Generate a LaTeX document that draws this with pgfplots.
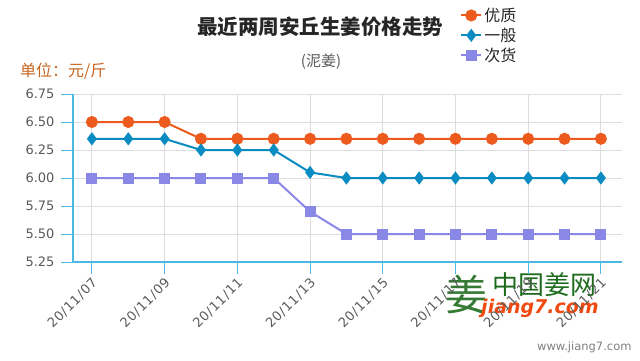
\documentclass[border=0pt]{standalone}
\usepackage{pgfplots}
\pgfplotsset{compat=1.18}
\usepackage{fontspec}
\setmainfont{Noto Sans CJK SC}
\newfontfamily\tickfont{DejaVu Sans}
\newfontfamily\xtickfont{DejaVu Sans}[LetterSpace=6]
\definecolor{cA}{HTML}{EC5A1E}
\definecolor{cB}{HTML}{0A8BC2}
\definecolor{cC}{HTML}{8A88E6}
\definecolor{axc}{HTML}{4CB9E3}
\definecolor{gridc}{HTML}{DDDDDD}
\definecolor{lab}{HTML}{5A5A5A}
\definecolor{unitc}{HTML}{C8651E}
\definecolor{logog}{HTML}{1E6B1E}
\definecolor{logor}{HTML}{F04A10}
\begin{document}
\begin{tikzpicture}
\useasboundingbox (0pt,0pt) rectangle (640pt,360pt);
% watermark
\node[font=\fontsize{42}{42}\selectfont, text=logog, opacity=0.9] at (466pt,66pt) {姜};
\node[font=\fontsize{26}{26}\selectfont, text=logog] at (544pt,75pt) {中国姜网};
\node[font=\tickfont\bfseries\itshape\fontsize{19}{19}\selectfont, text=logor] at (540pt,52pt) {jiang7.com};
\node[font=\tickfont\fontsize{11.5}{11.5}\selectfont, text=gray, anchor=east] at (635pt,13pt) {www.jiang7.com};
\begin{axis}[
  at={(73pt,98pt)}, anchor=south west, scale only axis,
  width=549pt, height=168pt,
  xmin=-0.52, xmax=14.58, ymin=5.25, ymax=6.75,
  xtick={0,2,4,6,8,10,12,14},
  xticklabels={20/11/07,20/11/09,20/11/11,20/11/13,20/11/15,20/11/17,20/11/19,20/11/21},
  ytick={5.25,5.5,5.75,6,6.25,6.5,6.75},
  /pgf/number format/fixed, /pgf/number format/fixed zerofill, /pgf/number format/precision=2,
  /pgf/number format/assume math mode=true,
  grid=major, major grid style={gridc, line width=1pt},
  axis x line*=bottom, axis y line*=left,
  axis line style={axc, line width=1.2pt},
  tick align=outside, major tick length=12pt,
  tick style={axc, line width=1pt},
  xticklabel style={rotate=45, anchor=east, text=lab, font=\xtickfont\fontsize{13}{13}\selectfont, xshift=1pt, yshift=-7pt},
  yticklabel style={text=lab, font=\tickfont\fontsize{13}{13}\selectfont, xshift=-3pt},
  legend style={at={(0.705,1.525)}, anchor=north west, draw=none, fill=none,
    font=\fontsize{16}{16}\selectfont, text=black!85, row sep=1pt, inner sep=0pt},
  legend cell align=left,
  legend image code/.code={\draw[mark repeat=2,mark phase=2] plot coordinates {(0pt,0pt)(10pt,0pt)(20pt,0pt)};},
  clip=false,
]
\addplot[cA, line width=2pt, mark=*, mark size=5pt, mark options={solid}] coordinates {
 (0,6.5)(1,6.5)(2,6.5)(3,6.35)(4,6.35)(5,6.35)(6,6.35)(7,6.35)(8,6.35)(9,6.35)(10,6.35)(11,6.35)(12,6.35)(13,6.35)(14,6.35)};
\addlegendentry{优质}
\addplot[cB, line width=2pt, mark=diamond*, mark size=5pt] coordinates {
 (0,6.35)(1,6.35)(2,6.35)(3,6.25)(4,6.25)(5,6.25)(6,6.05)(7,6.0)(8,6.0)(9,6.0)(10,6.0)(11,6.0)(12,6.0)(13,6.0)(14,6.0)};
\addlegendentry{一般}
\addplot[cC, line width=2pt, mark=square*, mark size=4.5pt] coordinates {
 (0,6.0)(1,6.0)(2,6.0)(3,6.0)(4,6.0)(5,6.0)(6,5.7)(7,5.5)(8,5.5)(9,5.5)(10,5.5)(11,5.5)(12,5.5)(13,5.5)(14,5.5)};
\addlegendentry{次货}
\end{axis}
\node[font=\bfseries\fontsize{20.5}{20.5}\selectfont, text=black!85] at (320pt,333pt) {最近两周安丘生姜价格走势};
\node[font=\fontsize{15}{15}\selectfont, text=lab] at (321pt,298pt) {(泥姜)};
\node[font=\fontsize{16}{16}\selectfont, text=unitc, anchor=west, inner sep=0pt] at (20pt,289pt) {单位：元/斤};
\end{tikzpicture}
\end{document}
